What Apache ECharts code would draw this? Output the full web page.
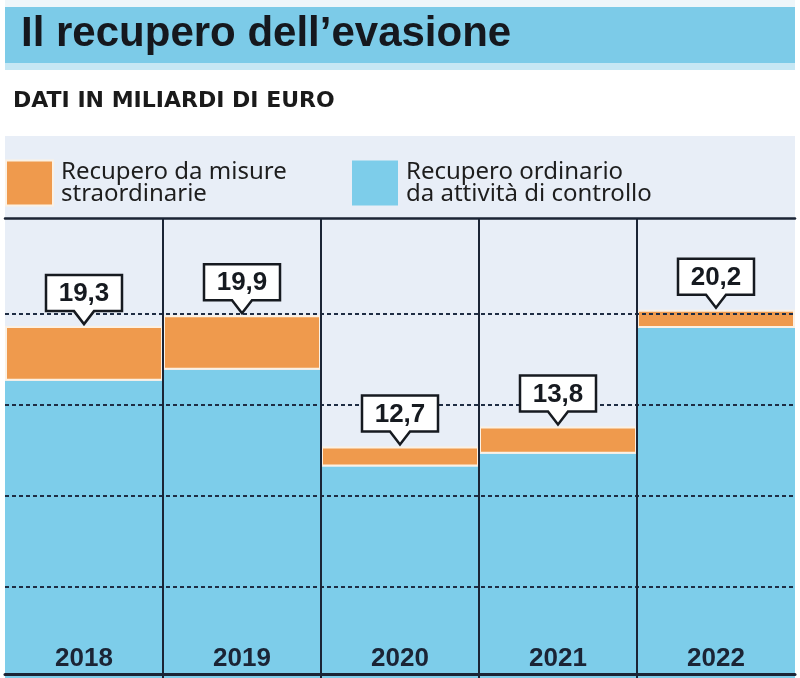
<!DOCTYPE html>
<html>
<head>
<meta charset="utf-8">
<script src="https://cdn.jsdelivr.net/npm/echarts@6/dist/echarts.min.js"></script>
<style>
html,body{margin:0;padding:0;background:#ffffff;}
#chart{width:800px;height:678px;}
</style>
</head>
<body>
<div id="chart"></div>
<script>
const categories = ['2018', '2019', '2020', '2021', '2022'];
const totals = [19.3, 19.9, 12.7, 13.8, 20.2];
const straordinario = [3.0, 3.0, 1.1, 1.5, 1.0];
const ordinario = [16.3, 16.9, 11.6, 12.3, 19.2];
const gridLines = [5, 10, 15, 20];
const nameStraord = 'Recupero da misure\nstraordinarie';
const nameOrd = 'Recupero ordinario\nda attività di controllo';
const titleText = 'Il recupero dell\u2019evasione';
const subtitleText = 'DATI IN MILIARDI DI EURO';

const BLUE = '#7dcdea';
const ORANGE = '#ef9a4d';
const DARK = '#1b2435';

const chart = echarts.init(document.getElementById('chart'), null, {renderer: 'canvas'});

const fmt = v => v.toFixed(1).replace('.', ',');

const legendText = {fontFamily: '"Noto Sans", sans-serif', fontSize: 24, lineHeight: 22, color: '#1e1e1e', padding: [0, 0, 6, 3]};

const option = {
  animation: false,
  backgroundColor: '#ffffff',
  graphic: [
    {type: 'rect', z: -20, shape: {x: 5, y: 0, width: 790, height: 7}, style: {fill: '#eef6fa'}},
    {type: 'rect', z: -20, shape: {x: 5, y: 7, width: 790, height: 56}, style: {fill: '#7ccbe8'}},
    {type: 'rect', z: -20, shape: {x: 5, y: 63, width: 790, height: 7}, style: {fill: '#c6e7f4'}},
    {type: 'rect', z: -20, shape: {x: 5, y: 136, width: 790, height: 542}, style: {fill: '#e8eef7'}},
    {type: 'text', z: 100, x: 21, y: 34, style: {text: titleText, font: 'bold 42px "Liberation Sans", Arial, sans-serif', fill: '#15181e', verticalAlign: 'middle'}},
    {type: 'text', z: 100, x: 13, y: 101, style: {text: subtitleText, font: 'bold 22px "DejaVu Sans", sans-serif', fill: '#1a1a1a', verticalAlign: 'middle'}}
  ],
  legend: [
    {
      data: [nameStraord], left: 5, top: 158, padding: 0, icon: 'rect', itemWidth: 47, itemHeight: 45,
      selectedMode: false, textStyle: legendText
    },
    {
      data: [nameOrd], left: 352, top: 158, padding: 0, icon: 'rect', itemWidth: 46, itemHeight: 45,
      selectedMode: false, textStyle: legendText
    }
  ],
  grid: {left: 5, width: 790, top: 218, height: 463, containLabel: false},
  xAxis: [
    {
      type: 'category', data: categories, position: 'bottom', offset: -4, z: 10,
      axisLine: {show: true, lineStyle: {color: DARK, width: 3}},
      axisTick: {show: false},
      axisLabel: {inside: true, margin: 2, color: DARK, fontFamily: '"Liberation Sans", Arial, sans-serif', fontWeight: 'bold', fontSize: 26},
      splitLine: {show: true, showMinLine: false, showMaxLine: false, lineStyle: {color: DARK, width: 2}}
    },
    {
      type: 'category', data: categories, position: 'top', z: 10,
      axisLine: {show: true, lineStyle: {color: DARK, width: 2.5}},
      axisTick: {show: false}, axisLabel: {show: false}, splitLine: {show: false}
    }
  ],
  yAxis: {type: 'value', min: 0, max: 25.23, show: false},
  series: [
    {
      name: nameOrd, type: 'bar', stack: 'tot', data: ordinario,
      barCategoryGap: '0%', barGap: '0%',
      itemStyle: {color: BLUE}
    },
    {
      name: nameStraord, type: 'bar', stack: 'tot', data: straordinario,
      barCategoryGap: '0%', barGap: '0%',
      itemStyle: {color: ORANGE, borderColor: '#fbf1e4', borderWidth: 2},
      markLine: {
        silent: true, symbol: ['none', 'none'], label: {show: false},
        lineStyle: {color: '#1f2d44', type: [4, 3], width: 2},
        data: gridLines.map(v => ({yAxis: v}))
      }
    },
    {
      type: 'custom', z: 20, xAxisIndex: 0, yAxisIndex: 0,
      data: totals.map((v, i) => [i, v]),
      encode: {x: 0, y: 1},
      renderItem: function (params, api) {
        const p = api.coord([api.value(0), api.value(1)]);
        const cx = p[0];
        const tip = p[1] - 2;
        const base = tip - 13;
        const top = base - 36;
        const hw = 38;
        const pts = [
          [cx - hw, top], [cx + hw, top], [cx + hw, base], [cx + 10, base],
          [cx, tip], [cx - 10, base], [cx - hw, base]
        ];
        return {
          type: 'group',
          children: [
            {type: 'polygon', shape: {points: pts}, style: {fill: '#ffffff', stroke: '#161a20', lineWidth: 2.5, lineJoin: 'miter'}},
            {type: 'text', x: cx, y: top + 19, style: {text: fmt(api.value(1)), font: 'bold 26px "Liberation Sans", Arial, sans-serif', fill: '#161a20', align: 'center', verticalAlign: 'middle'}}
          ]
        };
      }
    }
  ]
};
chart.setOption(option);
</script>
</body>
</html>
